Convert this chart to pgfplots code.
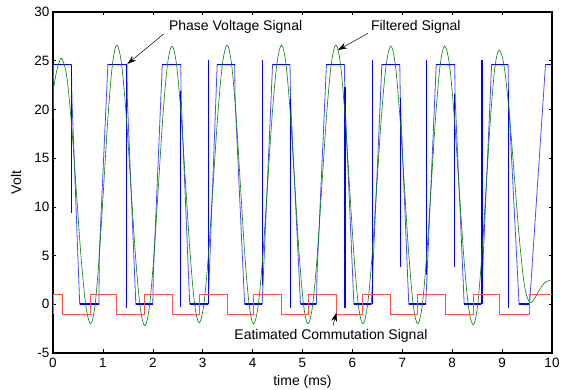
\documentclass[border=0pt]{standalone}
\usepackage{pgfplots}
\pgfplotsset{compat=1.18}
\usepackage{fontspec}
\setmainfont{Liberation Sans}
\usetikzlibrary{arrows.meta}
\definecolor{mblue}{RGB}{0,0,255}
\definecolor{mgreen}{RGB}{0,128,0}
\definecolor{mred}{RGB}{255,80,80}
\begin{document}
\begin{tikzpicture}
\begin{axis}[name=ax, scale only axis, width=499pt, height=341pt,
  xmin=0, xmax=10, ymin=-5, ymax=30,
  xtick={0,1,...,10}, ytick={-5,0,5,10,15,20,25,30},
  tick align=inside, major tick length=3.5pt,
  axis line style={line width=1.1pt},
  every tick/.style={black, line width=0.6pt},
  tick label style={font=\fontsize{13.5}{15}\selectfont},
  xticklabel style={yshift=-1.5pt},
  /pgf/number format/assume math mode=true,
  xlabel={time (ms)}, ylabel={Volt},
  label style={font=\fontsize{14}{16}\selectfont},
  xlabel style={at={(axis description cs:0.5,-0.0842)}, anchor=center},
  ylabel style={at={(axis description cs:-0.0741,0.5)}, anchor=center},
  unbounded coords=jump]

% Phase voltage: trapezoid (ramps)
\addplot[color=mblue!70, line width=0.8pt] coordinates {
(0,19.0) (0.01,24.6) (0.37,24.6) (0.38,21.0) (0.535,0) (0.92,0) (0.93,5.5) (1.10,24.6)
(1.48,24.6) (1.49,21) (1.66,0) (2.00,0) (2.01,3) (2.19,24.6)
(2.56,24.6) (2.57,21) (2.74,0) (3.11,0) (3.29,24.6)
(3.64,24.6) (3.65,21) (3.84,0) (4.19,0) (4.40,24.6)
(4.75,24.6) (4.76,21) (4.96,0) (5.28,0) (5.29,3) (5.48,24.6)
(5.84,24.6) (5.85,21) (6.03,0) (6.38,0) (6.59,24.6)
(6.95,24.6) (6.96,21) (7.13,0) (7.47,0) (7.68,24.6)
(8.05,24.6) (8.06,21) (8.24,0) (8.58,0) (8.79,24.6)
(9.12,24.6) (9.13,21) (9.34,0) (9.55,0) (9.87,24.6) (10,24.6)
};
% plateaus (thick)
\addplot[color=mblue, line width=1.6pt] coordinates {
(0.01,24.6) (0.37,24.6) (0.4,nan)
(0.535,0) (0.92,0) (0.95,nan)
(1.10,24.6) (1.48,24.6) (1.5,nan)
(1.66,0) (2.00,0) (2.05,nan)
(2.19,24.6) (2.56,24.6) (2.6,nan)
(2.74,0) (3.11,0) (3.15,nan)
(3.29,24.6) (3.64,24.6) (3.7,nan)
(3.84,0) (4.19,0) (4.25,nan)
(4.40,24.6) (4.75,24.6) (4.8,nan)
(4.96,0) (5.28,0) (5.3,nan)
(5.48,24.6) (5.84,24.6) (5.9,nan)
(6.03,0) (6.38,0) (6.4,nan)
(6.59,24.6) (6.95,24.6) (7.0,nan)
(7.13,0) (7.47,0) (7.5,nan)
(7.68,24.6) (8.05,24.6) (8.1,nan)
(8.24,0) (8.58,0) (8.6,nan)
(8.79,24.6) (9.12,24.6) (9.2,nan)
(9.34,0) (9.55,0) (9.6,nan)
(9.87,24.6) (10,24.6)
};
% spikes
\addplot[color=mblue, line width=1.3pt] coordinates {
(0.37,24.6) (0.37,9.4) (0.37,nan)
(1.47,24.6) (1.47,-0.4) (1.47,nan)
(2.56,21.9) (2.56,-0.3) (2.56,nan)
(3.11,0) (3.11,25.1) (3.11,nan)
(4.20,2) (4.20,25.1) (4.20,nan)
(4.76,21.2) (4.76,-0.35) (4.76,nan)
(5.85,22.3) (5.85,-0.35) (5.85,nan)
(6.40,0) (6.40,25.1) (6.40,nan)
(6.96,21.2) (6.96,3.8) (6.96,nan)
(7.48,3) (7.48,25.1) (7.48,nan)
(8.05,21.6) (8.05,3.8) (8.05,nan)
(8.60,0) (8.60,25.1) (8.60,nan)
(9.13,22) (9.13,-0.35)
};

% Filtered signal
\addplot[color=mgreen, line width=0.6pt, smooth, tension=0.55] coordinates {
(0,21.8) (0.06,23.6) (0.12,24.8) (0.18,25.2)
(0.276,23.38) (0.372,18.4) (0.468,11.6) (0.563,4.8) (0.659,-0.18) (0.755,-2.0)
(0.8425,-0.08) (0.930,5.15) (1.0175,12.3) (1.105,19.45) (1.1925,24.68) (1.28,26.6)
(1.373,24.67) (1.467,19.4) (1.56,12.2) (1.653,5.0) (1.747,-0.27) (1.84,-2.2)
(1.931,-0.28) (2.022,4.98) (2.1125,12.15) (2.203,19.33) (2.294,24.58) (2.385,26.5)
(2.476,24.6) (2.567,19.4) (2.6575,12.3) (2.748,5.2) (2.839,0.0) (2.93,-1.9)
(3.023,0.01) (3.117,5.23) (3.21,12.35) (3.303,19.48) (3.397,24.69) (3.49,26.6)
(3.578,24.68) (3.667,19.45) (3.755,12.3) (3.843,5.15) (3.932,-0.08) (4.02,-2.0)
(4.113,-0.08) (4.207,5.15) (4.30,12.3) (4.393,19.45) (4.487,24.68) (4.58,26.6)
(4.668,24.68) (4.757,19.45) (4.845,12.3) (4.933,5.15) (5.022,-0.08) (5.11,-2.0)
(5.203,-0.08) (5.297,5.15) (5.39,12.3) (5.483,19.45) (5.577,24.68) (5.67,26.6)
(5.76,24.68) (5.85,19.45) (5.94,12.3) (6.03,5.15) (6.12,-0.08) (6.21,-2.0)
(6.303,-0.09) (6.397,5.13) (6.49,12.25) (6.583,19.38) (6.677,24.59) (6.77,26.5)
(6.86,24.59) (6.95,19.38) (7.04,12.25) (7.13,5.13) (7.22,-0.09) (7.31,-2.0)
(7.40,-0.09) (7.49,5.13) (7.58,12.25) (7.67,19.38) (7.76,24.59) (7.85,26.5)
(7.945,24.58) (8.04,19.35) (8.135,12.2) (8.23,5.05) (8.325,-0.18) (8.42,-2.1)
(8.507,-0.21) (8.593,4.95) (8.68,12.0) (8.767,19.05) (8.853,24.21) (8.94,26.1)
(9.042,24.36) (9.143,19.63) (9.245,13.15) (9.347,6.68) (9.448,1.94) (9.55,0.2)
(9.65,0.6) (9.75,1.5) (9.85,2.2) (9.95,2.45) (10,2.45)
};

% Estimated commutation signal
\addplot[color=mred, line width=0.8pt] coordinates {
(0,-1) (0,1) (0.18,1) (0.18,-1) (0.755,-1) (0.755,1) (1.28,1) (1.28,-1) (1.84,-1) (1.84,1)
(2.385,1) (2.385,-1) (2.93,-1) (2.93,1) (3.49,1) (3.49,-1) (4.02,-1) (4.02,1)
(4.58,1) (4.58,-1) (5.11,-1) (5.11,1) (5.68,1) (5.68,-1) (6.21,-1) (6.21,1)
(6.77,1) (6.77,-1) (7.31,-1) (7.31,1) (7.86,1) (7.86,-1) (8.42,-1) (8.42,1)
(8.95,1) (8.95,-1) (9.55,-1) (9.55,1) (10,1)
};

% annotations
\node[font=\fontsize{14}{16}\selectfont] at (axis cs:3.66,28.5) {Phase Voltage Signal};
\draw[line width=0.5pt, -{Stealth[length=9pt,width=6pt]}] (axis cs:2.22,27.75) -- (axis cs:1.49,24.67);
\node[font=\fontsize{14}{16}\selectfont] at (axis cs:7.27,28.5) {Filtered Signal};
\draw[line width=0.5pt, -{Stealth[length=9pt,width=6pt]}] (axis cs:6.31,27.8) -- (axis cs:5.71,26.1);
\node[font=\fontsize{14}{16}\selectfont] at (axis cs:5.57,-3.26) {Eatimated Commutation Signal};
\draw[line width=0.5pt, -{Stealth[length=9pt,width=6pt]}] (axis cs:5.61,-2.2) -- (axis cs:5.68,-0.86);
\end{axis}
\pgfresetboundingbox
\path (ax.south west) ++(-53pt,-37pt) coordinate (bl);
\path (ax.north east) ++(10pt,12pt) coordinate (tr);
\useasboundingbox (bl) rectangle (tr);
\end{tikzpicture}
\end{document}
